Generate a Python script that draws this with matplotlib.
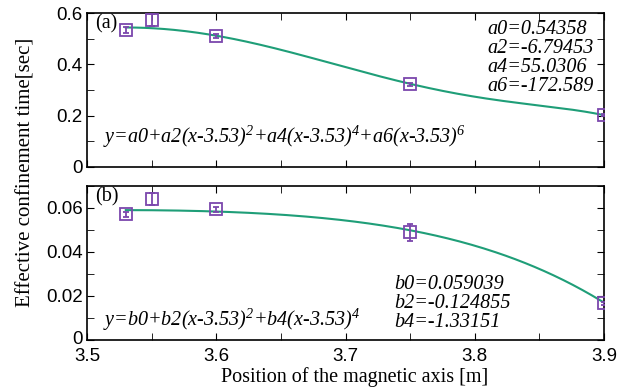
import numpy as np
import matplotlib
matplotlib.use('Agg')
import matplotlib.pyplot as plt
from matplotlib.ticker import MultipleLocator
from matplotlib.transforms import ScaledTranslation

# measured points
pos = [3.53, 3.55, 3.6, 3.75, 3.9]
tau_a = [0.535, 0.573, 0.511, 0.323, 0.202]
err_a = [0.012, 0.022, 0.008, 0.006, 0.004]
tau_b = [0.0571, 0.0641, 0.0594, 0.0489, 0.0167]
err_b = [0.0012, 0.0026, 0.0012, 0.0038, 0.0006]

# fit coefficients shown on the chart
a_coef = [0.54358, -6.79453, 55.0306, -172.589]   # a0, a2, a4, a6
b_coef = [0.059039, -0.124855, -1.33151]           # b0, b2, b4
x0 = 3.53

purple = '#7b47ad'
green = '#1f9e78'
serif = ['Liberation Serif', 'DejaVu Serif']
sans = ['Liberation Sans', 'DejaVu Sans']

plt.rcParams['mathtext.fontset'] = 'custom'
plt.rcParams['mathtext.rm'] = 'Liberation Serif:italic'
plt.rcParams['mathtext.it'] = 'Liberation Serif:italic'


def even_poly(x, coef):
    d = x - x0
    y = np.zeros_like(x)
    for k, c in enumerate(coef):
        y += c * d ** (2 * k)
    return y


fig = plt.figure(figsize=(6.29, 3.92), dpi=100)
ax1 = fig.add_axes([87/629, 1 - 167/392, 517/629, 154/392])
ax2 = fig.add_axes([87/629, 1 - 340/392, 517/629, 154/392])

xf = np.linspace(3.53, 3.9, 200)

for ax, tau, err, coef in [(ax1, tau_a, err_a, a_coef), (ax2, tau_b, err_b, b_coef)]:
    ax.plot(xf, even_poly(xf, coef), color=green, lw=1.5, zorder=2)
    ax.errorbar(pos, tau, yerr=err, fmt='s', mfc='none', mec=purple, ecolor=purple,
                ms=8, mew=1.3, elinewidth=1.3, capsize=2.5, zorder=3)
    ax.set_xlim(3.5, 3.9)
    ax.xaxis.set_major_locator(MultipleLocator(0.1))
    ax.xaxis.set_minor_locator(MultipleLocator(0.05))
    ax.tick_params(which='both', direction='in', top=True, right=True, labelsize=13.5, length=5)
    ax.tick_params(axis='y', pad=3)
    for s in ax.spines.values():
        s.set_linewidth(1.2)

ax1.set_ylim(0, 0.6)
ax1.set_yticks([0, 0.2, 0.4, 0.6])
ax1.yaxis.set_minor_locator(MultipleLocator(0.1))
ax1.set_yticklabels(['0', '0.2', '0.4', '0.6'], family=sans)
ax1.tick_params(labelbottom=False)

ax2.set_ylim(0, 0.07)
ax2.set_yticks([0, 0.02, 0.04, 0.06])
ax2.yaxis.set_minor_locator(MultipleLocator(0.01))
ax2.set_yticklabels(['0', '0.02', '0.04', '0.06'], family=sans)
ax2.set_xticks([3.5, 3.6, 3.7, 3.8, 3.9])
ax2.set_xticklabels(['3.5', '3.6', '3.7', '3.8', '3.9'], family=sans)
ax2.tick_params(axis='x', pad=6)

# nudge the bottom "0" up a little so it does not run into "3.5"
zero = ax2.get_yticklabels()[0]
zero.set_transform(zero.get_transform() + ScaledTranslation(0, 2/72, fig.dpi_scale_trans))

ax1.text(0.015, 0.93, '(a)', transform=ax1.transAxes, family=serif, fontsize=14.5, va='center')
ax2.text(0.015, 0.93, '(b)', transform=ax2.transAxes, family=serif, fontsize=14.5, va='center')

a_txt = 'a0=0.54358\na2=-6.79453\na4=55.0306\na6=-172.589'
ax1.text(0.775, 0.955, a_txt, transform=ax1.transAxes, family=serif, style='italic',
         fontsize=14.5, va='top', linespacing=1.0)
ax1.text(0.03, 0.195, 'y=a0+a2(x-3.53)$^{2}$+a4(x-3.53)$^{4}$+a6(x-3.53)$^{6}$',
         transform=ax1.transAxes, family=serif, style='italic', fontsize=14.5, va='center')

b_txt = 'b0=0.059039\nb2=-0.124855\nb4=-1.33151'
ax2.text(0.595, 0.42, b_txt, transform=ax2.transAxes, family=serif, style='italic',
         fontsize=14.5, va='top', linespacing=1.0)
ax2.text(0.03, 0.13, 'y=b0+b2(x-3.53)$^{2}$+b4(x-3.53)$^{4}$',
         transform=ax2.transAxes, family=serif, style='italic', fontsize=14.5, va='center')

fig.text(26/629, 1 - 172/392, 'Effective confinement time[sec]', rotation=90,
         family=serif, fontsize=15, ha='center', va='center')
fig.text(355/629, 1 - 377/392, 'Position of the magnetic axis [m]',
         family=serif, fontsize=14.5, ha='center', va='center')

fig.savefig('out.png', dpi=100)
